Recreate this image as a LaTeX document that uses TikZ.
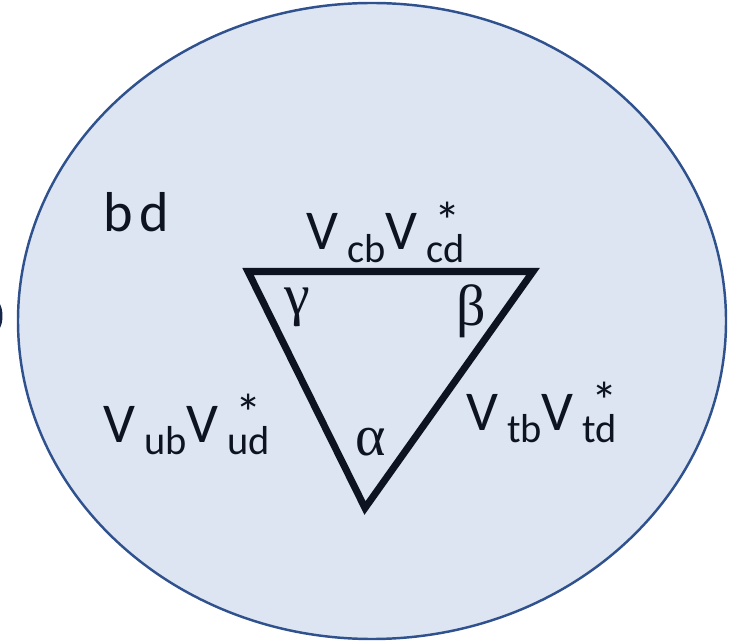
\documentclass[tikz,border=0pt]{standalone}
\usepackage{fontspec}
\setmainfont{Carlito}
\newfontfamily\grkfont{Liberation Serif}
\usepackage{tikz}
\usetikzlibrary{positioning}
\definecolor{cFill}{RGB}{221,229,242}
\definecolor{cEdge}{RGB}{47,82,143}
\definecolor{cInk}{RGB}{13,19,33}
\definecolor{cParen}{RGB}{22,38,72}
\newcommand{\subsz}{\fontsize{23}{23}\selectfont}
\newcommand{\starsz}{\fontsize{30}{30}\selectfont}
\newcommand{\vprod}[2]{V\kern5pt\raisebox{-7pt}{\subsz #1}V\kern5pt\raisebox{-7pt}{\subsz\rlap{\kern5pt\raisebox{13pt}{\starsz *}}#2}}
\tikzset{
	bubble/.style ={draw=cEdge, line width=1.4pt, fill=cFill},
	tri/.style    ={draw=cInk, line width=4pt, line join=miter},
	lbl/.style    ={inner sep=0pt, anchor=base west, text=cInk, font=\fontsize{32}{36}\selectfont},
	greek/.style  ={inner sep=0pt, text=cInk, font=\grkfont\fontsize{33}{36}\selectfont},
}
\begin{document}
\begin{tikzpicture}[x=0.02cm, y=-0.02cm]
	\useasboundingbox (0,0) rectangle (743,641);
	\draw[bubble] (372,321) ellipse [x radius=354, y radius=318];
	\draw[cParen, line width=1.7pt] (-6,316) ellipse [x radius=7, y radius=15];
	\coordinate (tl) at (248,271.5);
	\coordinate (tr) at (533,271.5);
	\coordinate (bt) at (365,508);
	\draw[tri] (tl) -- (tr) -- (bt) -- cycle;
	\node[lbl] (bd) at (103,232) {b\kern4pt d};
	\node[lbl] (vc) at (306,250) {\vprod{cb}{cd}};
	\node[lbl] (vu) at (103,442) {\vprod{ub}{ud}};
	\node[lbl] (vt) at (466,430) {\vprod{tb}{td}};
	\node[greek] (gam) at (297,307) {γ};
	\node[greek] (bet) at (471,311) {β};
	\node[greek] (alp) at (371,442) {α};
\end{tikzpicture}
\end{document}
